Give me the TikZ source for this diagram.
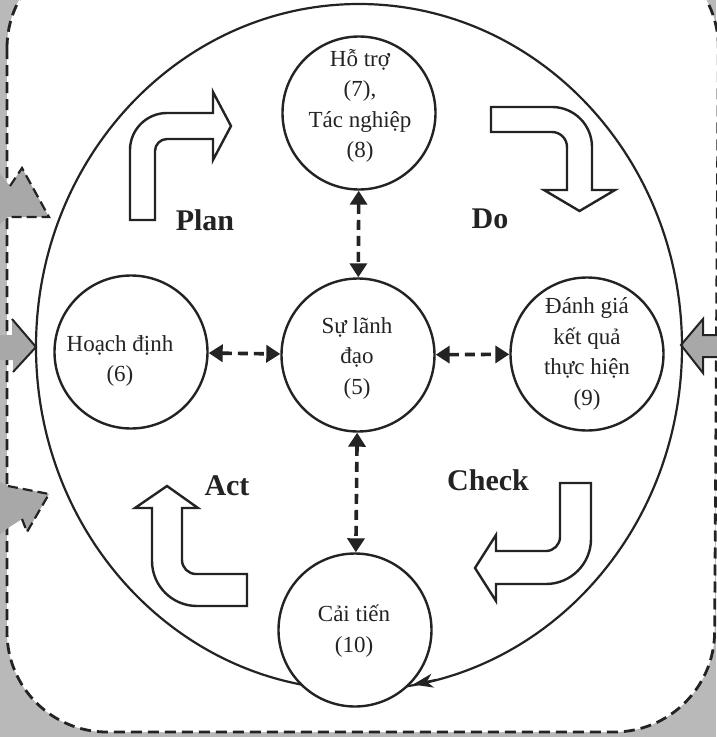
\documentclass[tikz,border=0pt]{standalone}
\usepackage{fontspec}
\setmainfont{Liberation Serif}
\usetikzlibrary{arrows.meta,shapes.geometric}
\definecolor{ink}{RGB}{35,35,35}
\definecolor{bggray}{RGB}{185,185,185}
\definecolor{arrgray}{RGB}{168,168,168}
\begin{document}
\begin{tikzpicture}[x=1pt,y=-1pt,
  circ/.style={circle, draw=ink, line width=2.4pt, fill=white, minimum size=153pt, inner sep=0pt},
  ctext/.style={align=center, text=ink, font=\fontsize{23}{30.5}\selectfont, inner sep=0pt},
  pdca/.style={anchor=base, text=ink, font=\fontsize{30}{36}\selectfont\bfseries, inner sep=0pt},
  dasharrow/.style={draw=ink, line width=3.6pt, dash pattern=on 10pt off 6pt,
     {Triangle[length=14pt,width=17pt]}-{Triangle[length=14pt,width=17pt]}},
  blockarrow/.style={draw=ink, line width=2.4pt, fill=white, line join=miter},
  grayarrow/.style={fill=arrgray},
  grayedge/.style={draw=ink, line width=2.2pt, dash pattern=on 10pt off 5pt},
]
\useasboundingbox (0,0) rectangle (716,737);
% background and dashed frame
\fill[bggray] (0,0) rectangle (716,737);
\draw[fill=white, draw=ink, line width=2.8pt, dash pattern=on 11pt off 6pt, rounded corners=100pt]
  (7,-52) -- (7,732) -- (714,732) -- (719,-52) -- cycle;

% gray arrows from outside
\fill[grayarrow] (0,174) -- (10,186) -- (22,168) -- (49,217) -- (8,217) -- (0,224) -- cycle;
\draw[grayedge] (10,186) -- (22,168) -- (49,217) -- (8,217);
\fill[grayarrow] (0,335) -- (12,335) -- (12,319) -- (36,347) -- (13,372) -- (13,360) -- (0,360) -- cycle;
\draw[draw=ink, line width=2pt] (12,319) -- (36,347) -- (13,372);
\fill[grayarrow] (0,482) -- (8,486) -- (49,494) -- (27,532) -- (22,519) -- (8,528) -- (0,534) -- cycle;
\draw[grayedge] (8,486) -- (49,494) -- (27,532) -- (22,519);
\draw[grayarrow, draw=ink, line width=2pt] (717,335) -- (703,335) -- (703,319) -- (681,345) -- (703,373) -- (703,357) -- (717,357);

% big cycle
\node[draw=ink, line width=2.2pt, ellipse, minimum width=646pt, minimum height=686pt, inner sep=0pt] (big) at (359,347) {};

% circles
\node[circ] (c78) at (359,113) {};
\node[circ] (c6) at (131,352) {};
\node[circ] (c5) at (358,355) {};
\node[circ] (c9) at (587,354) {};
\node[circ] (c10) at (355,630) {};

\node[ctext] (t78) at (360,106) {Hỗ trợ\\(7),\\Tác nghiệp\\(8)};
\node[ctext] (t6) at (120,361) {Hoạch định\\(6)};
\node[ctext] (t5) at (357,358) {Sự lãnh\\đạo\\(5)};
\node[ctext] (t9) at (587,354) {Đánh giá\\kết quả\\thực hiện\\(9)};
\node[ctext] (t10) at (354,631) {Cải tiến\\(10)};

% arrow head of the big cycle
\coordinate (bigA) at (436,680);
\coordinate (bigB) at (413,684.5);
\draw[draw=ink, line width=2.2pt, -{Stealth[length=20pt,width=14pt,inset=6pt]}] (bigA) -- (bigB);

% dashed double arrows
\draw[dasharrow] (c78) -- (c5);
\draw[dasharrow] (c6) -- (c5);
\draw[dasharrow] (c5) -- (c9);
\draw[dasharrow] (c5) -- (c10);

% block arrows
\draw[blockarrow] (130,220) -- (130,150) .. controls (130,129.6) and (146.6,113) .. (167,113)
  -- (213,113) -- (213,92) -- (231,126) -- (213,160) -- (213,139) -- (167,139)
  .. controls (160.4,139) and (155,144.4) .. (155,151) -- (155,220) -- cycle;
\draw[blockarrow] (491,107) -- (552,107) .. controls (574.1,107) and (592,124.9) .. (592,147)
  -- (592,190) -- (615,190) -- (579.5,211) -- (544,190) -- (567,190) -- (567,147)
  .. controls (567,138.7) and (560.3,132) .. (552,132) -- (491,132) -- cycle;
\draw[blockarrow] (560,483) -- (591,483) -- (591,539) .. controls (591,563.8) and (570.8,584) .. (546,584)
  -- (496,584) -- (496,601) -- (475,568) -- (496,535) -- (496,551) -- (546,551)
  .. controls (553.7,551) and (560,544.7) .. (560,537) -- cycle;
\draw[blockarrow] (247,574) -- (247,606) -- (197,606) .. controls (172.2,606) and (152,585.8) .. (152,561)
  -- (152,508) -- (135,508) -- (167,486) -- (198,508) -- (182,508) -- (182,560)
  .. controls (182,567.7) and (188.3,574) .. (196,574) -- cycle;

% PDCA labels
\node[pdca] (plan) at (205,230) {Plan};
\node[pdca] (do) at (490,228) {Do};
\node[pdca] (act) at (227,495) {Act};
\node[pdca] (check) at (488,490) {Check};
\end{tikzpicture}
\end{document}
